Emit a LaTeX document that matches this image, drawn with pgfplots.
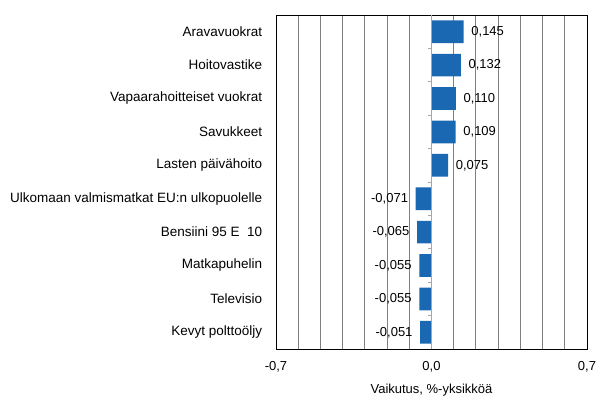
\documentclass[border=0pt]{standalone}
\usepackage{pgfplots}
\pgfplotsset{compat=1.18}
\usepackage{fontspec}
\setmainfont{Liberation Sans}
\definecolor{barblue}{RGB}{26,104,178}
\definecolor{gridgray}{RGB}{128,128,128}
\begin{document}
\fontsize{13bp}{15bp}\selectfont
\begin{tikzpicture}
\path[use as bounding box] (0bp,0bp) rectangle (607bp,418bp);
\begin{axis}[
  at={(276bp,69bp)}, anchor=south west,
  width=311bp, height=334bp, scale only axis,
  xbar, bar width=22.7bp,
  xmin=-0.7, xmax=0.7,
  ymin=-0.5, ymax=9.5, y dir=reverse,
  ytick={0,...,9},
  yticklabels={Aravavuokrat,Hoitovastike,Vapaarahoitteiset vuokrat,Savukkeet,Lasten päivähoito,Ulkomaan valmismatkat EU:n ulkopuolelle,Bensiini 95 E\ \ 10,Matkapuhelin,Televisio,Kevyt polttoöljy},
  yticklabel style={font=\fontsize{13.5bp}{15bp}\selectfont, xshift=-5bp},
  y tick style={draw=none},
  xtick={-0.7,0,0.7},
  xticklabels={{-0,7},{0,0},{0,7}},
  xticklabel style={font=\fontsize{13bp}{15bp}\selectfont, yshift=-8bp},
  x tick style={draw=none},
  minor xtick={-0.6,-0.5,-0.4,-0.3,-0.2,-0.1,0.1,0.2,0.3,0.4,0.5,0.6},
  xminorgrids=true,
  minor grid style={gridgray, line width=0.9bp},
  axis line style={black, line width=0.9bp},
  xlabel={Vaikutus, \%-yksikköä},
  xlabel style={font=\fontsize{13bp}{15bp}\selectfont, yshift=-3bp},
  nodes near coords,
  every node near coord/.append style={font=\fontsize{13bp}{15bp}\selectfont, inner sep=7.5bp,
    /pgf/number format/.cd, fixed, fixed zerofill, precision=3, use comma, assume math mode=true},
  clip=false,
]
\addplot[fill=barblue, draw=none] coordinates {
(0.145,0) (0.132,1) (0.110,2) (0.109,3) (0.075,4)
(-0.071,5) (-0.065,6) (-0.055,7) (-0.055,8) (-0.051,9)};
\draw[gridgray!70, line width=0.9bp] (axis cs:0,-0.5) -- (axis cs:0,9.5);
\pgfplotsinvokeforeach{0,...,8}{\draw[gridgray!70, line width=0.9bp] (axis cs:0,#1+0.5) -- ++(-4bp,0bp);}
\end{axis}
\end{tikzpicture}
\end{document}
